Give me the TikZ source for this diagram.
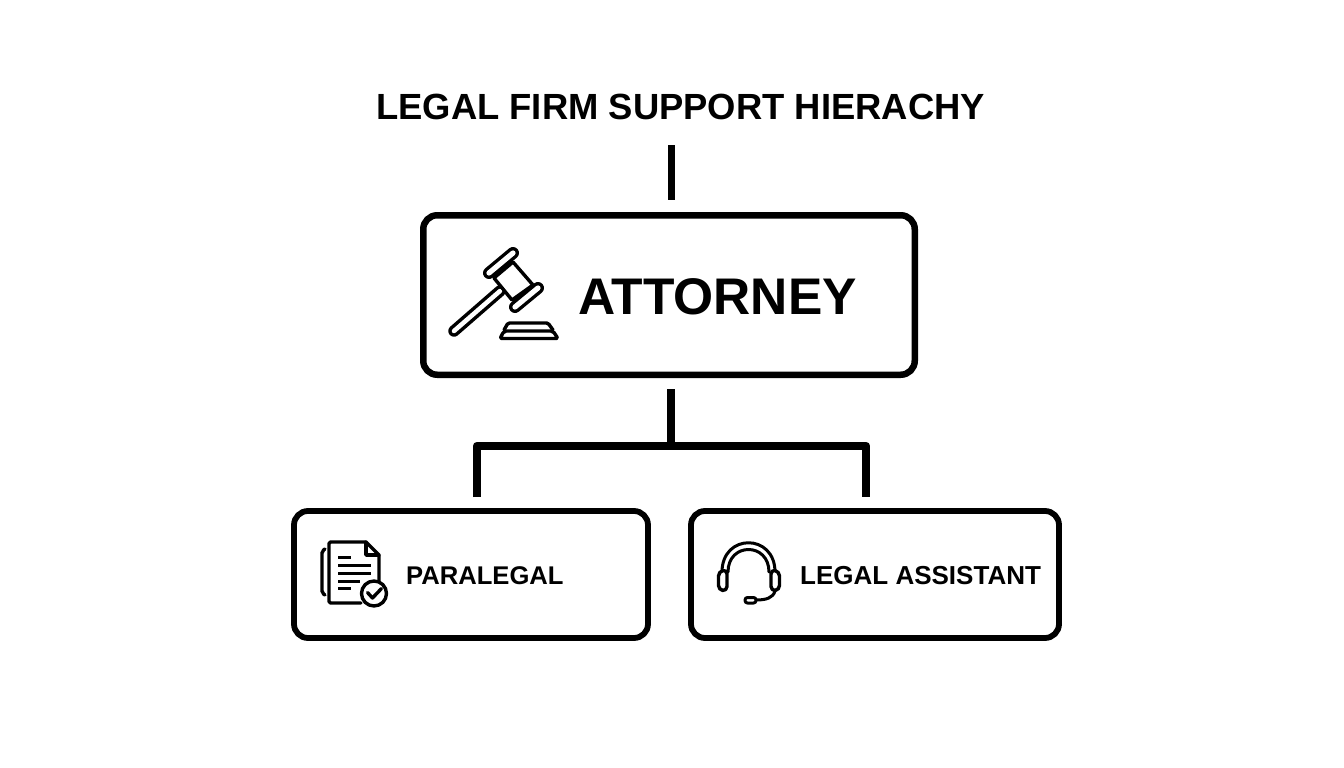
\documentclass[tikz,border=0pt]{standalone}
\usepackage{fontspec}
\setmainfont{Liberation Sans}
\tikzset{
  x=1pt,y=-1pt,
  boxnode/.style={draw=black,fill=white,rounded corners=14pt,inner sep=0pt,outer sep=0pt,anchor=north west},
  conn/.style={draw=black,line cap=butt,line join=round},
  ico/.style={draw=black,line width=3.4pt,line cap=round,line join=round,fill=white},
  lbl/.style={font=\bfseries,inner sep=0pt,anchor=base west,text=black}
}
\begin{document}
\begin{tikzpicture}
\useasboundingbox (0,0) rectangle (1344,768);
\fill[white] (0,0) rectangle (1344,768);
% title
\node[lbl,font=\fontsize{36.4}{40}\selectfont\bfseries] (title) at (376,119) {LEGAL FIRM SUPPORT HIERACHY};
% boxes
\node[boxnode,line width=6.5pt,minimum width=491.5pt,minimum height=159.5pt] (att) at (423.25,215.25) {};
\node[boxnode,line width=5.8pt,minimum width=354pt,minimum height=127pt] (par) at (294,511) {};
\node[boxnode,line width=5.8pt,minimum width=368pt,minimum height=127pt] (las) at (691,511) {};
% connectors
\coordinate (topS) at (671,145);
\coordinate (topE) at (671,200);
\coordinate (midS) at (671,389);
\coordinate (midE) at (671,446);
\coordinate (lE) at (477,497);
\coordinate (rE) at (866,497);
\draw[conn,line width=7pt] (topS) -- (topE);
\draw[conn,line width=8.5pt] (midS) -- (midE);
\draw[conn,line width=8.5pt] (lE) |- (midE) -| (rE);
% labels
\node[lbl,font=\fontsize{51.5}{58}\selectfont\bfseries] (attT) at (578,314) {ATTORNEY};
\node[lbl,font=\fontsize{25.6}{30}\selectfont\bfseries] (parT) at (406,584) {PARALEGAL};
\node[lbl,font=\fontsize{26}{30}\selectfont\bfseries] (lasT) at (800,584) {LEGAL ASSISTANT};
% gavel
\draw[line width=11.5pt,line cap=round,black] (454,331) -- (500,291);
\draw[line width=4.5pt,line cap=round,white] (454,331) -- (500,291);
\draw[ico] (494,278) -- (513,262) -- (533,285) -- (512,300) -- cycle;
\draw[line width=12pt,line cap=round,black] (489,273) -- (513,253);
\draw[line width=5.2pt,line cap=round,white] (489,273) -- (513,253);
\draw[line width=12pt,line cap=round,black] (515,307) -- (538,288);
\draw[line width=5.2pt,line cap=round,white] (515,307) -- (538,288);
\draw[ico,rounded corners=1.5pt] (504,330) -- (508,323) -- (548,323) -- (553,330);
\draw[ico,rounded corners=2pt] (504,331) -- (553,331) -- (558,338.5) -- (500,338.5) -- cycle;
% document
\draw[ico,rounded corners=2pt] (325,549) -- (322,551) -- (322,593) -- (325,595);
\draw[ico,rounded corners=1.5pt] (361,603) -- (329,603) -- (329,542) -- (366,542) -- (379,555) -- (379,581);
\draw[ico,fill=none] (366,542) -- (366,555) -- (379,555);
\foreach \yy/\xx in {557/351,565/371,573/371,581/360,588/351}
  \draw[ico,line width=3pt,line cap=butt] (338,\yy) -- (\xx,\yy);
\draw[ico] (374,593.5) circle[radius=12.5];
\draw[ico,fill=none] (367.5,592.5) -- (372.5,598) -- (381.5,588.5);
% headset
\draw[ico,fill=none,line width=3pt] (722,572) .. controls (722,533) and (775,533) .. (775,572);
\draw[ico,fill=none,line width=3pt] (728,572) .. controls (728,542) and (769,542) .. (769,572);
\draw[ico,rounded corners=4.5pt] (718.5,571.5) -- (727,569.5) -- (727,591) -- (718.5,590) -- cycle;
\draw[ico,rounded corners=4.5pt] (779.5,571.5) -- (771,569.5) -- (771,591) -- (779.5,590) -- cycle;
\draw[ico,fill=none,line width=3pt] (775,591) .. controls (773,598) and (766,600) .. (756,600);
\draw[ico,line width=3pt,rounded corners=2.4pt] (745,597.5) rectangle (756,603);
\end{tikzpicture}
\end{document}
